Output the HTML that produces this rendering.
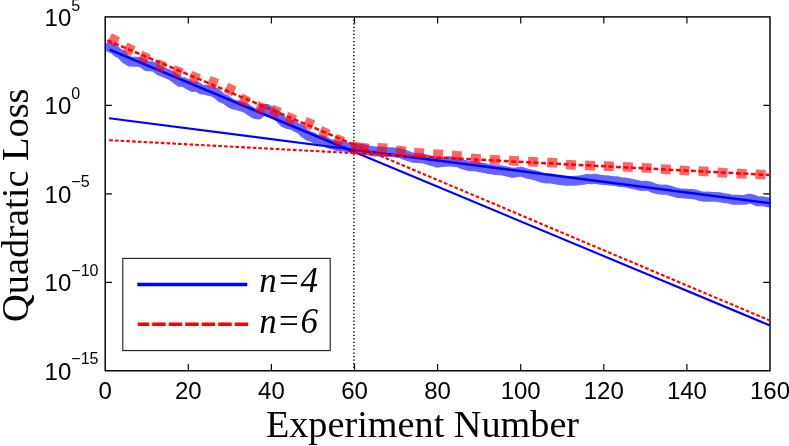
<!DOCTYPE html>
<html><head><meta charset="utf-8"><title>plot</title>
<style>html,body{margin:0;padding:0;background:#fff;overflow:hidden}body{width:789px;height:446px;position:relative;font-family:"Liberation Sans",sans-serif}</style></head>
<body>
<svg width="789" height="446" viewBox="0 0 789 446" style="position:absolute;left:0;top:0;will-change:transform">
<defs><clipPath id="cp"><rect x="104.50" y="16.20" width="666.20" height="355.25"/></clipPath></defs>
<rect x="105.2" y="16.9" width="664.8" height="353.85" fill="none" stroke="#000" stroke-width="1.45"/>
<path d="M188.3,370.75 v-6.7 M188.3,16.9 v6.7 M271.4,370.75 v-6.7 M271.4,16.9 v6.7 M354.5,370.75 v-6.7 M354.5,16.9 v6.7 M437.6,370.75 v-6.7 M437.6,16.9 v6.7 M520.7,370.75 v-6.7 M520.7,16.9 v6.7 M603.8,370.75 v-6.7 M603.8,16.9 v6.7 M686.9,370.75 v-6.7 M686.9,16.9 v6.7 M105.2,105.4 h6.7 M770.0,105.4 h-6.7 M105.2,193.8 h6.7 M770.0,193.8 h-6.7 M105.2,282.3 h6.7 M770.0,282.3 h-6.7" stroke="#000" stroke-width="1.15" fill="none"/>
<g clip-path="url(#cp)" fill="none">
<path d="M353.9,16.9 V370.75" stroke="#000" stroke-width="1.5" stroke-dasharray="1.25 2.29" stroke-dashoffset="0.8"/>
<path d="M109.4,47.1 L113.5,48.9 L117.7,52.5 L121.8,54.8 L126.0,59.3 L130.1,61.6 L134.3,61.7 L138.4,61.6 L142.6,63.1 L146.8,66.2 L150.9,66.1 L155.1,67.2 L159.2,70.4 L163.4,72.2 L167.5,73.8 L171.7,75.8 L175.8,78.8 L180.0,81.9 L184.1,82.2 L188.3,84.7 L192.5,87.0 L196.6,86.4 L200.8,89.3 L204.9,89.8 L209.1,91.0 L213.2,91.9 L217.4,94.2 L221.5,97.8 L225.7,99.3 L229.9,102.7 L234.0,104.7 L238.2,105.5 L242.3,106.7 L246.5,108.4 L250.6,111.1 L254.8,113.9 L258.9,114.5 L263.1,109.3 L267.2,109.0 L271.4,111.9 L275.6,114.4 L279.7,117.8 L283.9,122.4 L288.0,124.1 L292.2,124.9 L296.3,127.3 L300.5,129.1 L304.6,133.4 L308.8,136.0 L312.9,137.2 L317.1,140.2 L321.3,140.1 L325.4,141.7 L329.6,143.9 L333.7,144.6 L337.9,146.3 L342.0,146.1 L346.2,147.0 L350.3,147.9 L354.5,147.6 L358.7,148.5 L362.8,148.9 L367.0,150.1 L371.1,150.8 L375.3,151.5 L379.4,151.4 L383.6,151.7 L387.7,152.1 L391.9,152.1 L396.1,152.7 L400.2,153.1 L404.4,154.8 L408.5,156.2 L412.7,157.7 L416.8,158.1 L421.0,158.2 L425.1,159.0 L429.3,160.4 L433.4,161.3 L437.6,162.7 L441.8,162.1 L445.9,161.7 L450.1,161.3 L454.2,162.0 L458.4,162.4 L462.5,164.3 L466.7,165.5 L470.8,166.4 L475.0,166.2 L479.1,167.1 L483.3,167.8 L487.5,168.8 L491.6,169.4 L495.8,170.1 L499.9,170.2 L504.1,170.9 L508.2,171.8 L512.4,172.9 L516.5,172.4 L520.7,171.5 L524.9,172.9 L529.0,174.2 L533.2,174.9 L537.3,176.0 L541.5,177.6 L545.6,178.5 L549.8,178.3 L553.9,179.2 L558.1,179.8 L562.2,180.3 L566.4,180.8 L570.6,180.9 L574.7,180.8 L578.9,180.4 L583.0,179.9 L587.2,178.9 L591.3,179.2 L595.5,178.8 L599.6,179.6 L603.8,180.1 L608.0,180.3 L612.1,180.9 L616.3,181.1 L620.4,182.1 L624.6,182.4 L628.7,183.2 L632.9,184.1 L637.0,184.9 L641.2,186.1 L645.4,185.7 L649.5,186.3 L653.7,188.1 L657.8,189.2 L662.0,189.8 L666.1,189.5 L670.3,190.7 L674.4,192.0 L678.6,193.1 L682.7,193.4 L686.9,193.8 L691.1,194.0 L695.2,194.5 L699.4,195.8 L703.5,196.7 L707.7,196.5 L711.8,196.9 L716.0,196.9 L720.1,197.3 L724.3,198.1 L728.5,198.7 L732.6,199.7 L736.8,199.6 L740.9,199.9 L745.1,199.8 L749.2,198.6 L753.4,199.6 L757.5,201.4 L761.7,201.2 L765.8,201.9 L770.0,202.6" stroke="#0000ff" stroke-opacity="0.6" stroke-width="9.9" stroke-linejoin="round" stroke-linecap="round"/>
<path d="M109.5,49.7 L354.5,152.0" stroke="#0000ff" stroke-width="2.5"/>
<path d="M353.9,151.7 L770.0,325.5" stroke="#0000ff" stroke-width="2.1"/>
<path d="M109.1,118.3 L353.9,149.7" stroke="#0000ff" stroke-width="2.1"/>
<path d="M353.3,149.7 L770.0,203.2" stroke="#0000ff" stroke-width="2.5"/>
<path d="M109.5,37.9 L117.7,42.1 M125.2,47.3 L133.4,51.3 M140.2,55.5 L148.6,59.5 M156.6,64.1 L165.0,67.7 M173.3,70.3 L181.9,73.5 M190.3,76.0 L198.9,79.2 M208.7,81.0 L217.3,84.2 M226.1,87.6 L234.3,91.6 M240.3,98.2 L248.5,102.4 M256.6,106.3 L265.2,109.7 M271.2,109.6 L279.8,113.0 M286.5,117.0 L295.1,120.4 M304.7,121.8 L313.1,125.4 M320.1,130.7 L328.3,134.7 M334.7,138.5 L343.1,142.1" stroke="#ff0000" stroke-opacity="0.6" stroke-width="10.6"/>
<path d="M351.1,146.2 L368.9,148.4 M377.3,147.7 L387.3,148.3 M395.9,150.3 L405.9,151.3 M414.0,152.5 L424.0,153.3 M433.1,154.0 L443.1,154.6 M451.8,155.4 L461.8,156.2 M470.8,158.3 L480.8,159.1 M489.9,159.5 L499.9,160.1 M508.9,160.5 L518.9,161.1 M528.0,161.5 L538.0,162.1 M547.2,162.4 L557.2,163.0 M565.9,164.5 L575.9,165.1 M585.0,165.4 L595.0,165.8 M603.8,166.0 L613.8,166.4 M622.8,166.7 L632.8,167.3 M641.6,167.7 L651.6,168.3 M660.8,169.0 L670.8,169.6 M679.5,170.2 L689.5,170.8 M698.5,171.0 L708.5,171.6 M717.6,172.4 L727.6,173.0 M736.6,173.5 L746.6,173.9 M755.6,174.3 L765.6,174.7" stroke="#ff0000" stroke-opacity="0.6" stroke-width="9.6"/>
<path d="M107.3,40.3 L353.9,144.6" stroke="#ff0000" stroke-width="2.5" stroke-dasharray="4.9 2.6"/>
<path d="M353.9,144.6 L770.0,320.6" stroke="#ff0000" stroke-width="2.1" stroke-dasharray="3.7 2.05"/>
<path d="M109.1,140.2 L353.9,153.1" stroke="#ff0000" stroke-width="2.1" stroke-dasharray="3.7 2.05"/>
<path d="M353.9,153.1 L770.0,175.0" stroke="#ff0000" stroke-width="2.5" stroke-dasharray="4.9 2.6"/>
</g>
<rect x="122.8" y="258.4" width="207.4" height="92.2" fill="#fff" stroke="#1a1a1a" stroke-width="1.1"/>
<path d="M137.3,284.5 H247.3" stroke="#0000ff" stroke-width="3.5"/>
<path d="M137.8,324.25 H248.1" stroke="#ff0000" stroke-width="3.5" stroke-dasharray="13.5 3" stroke-dashoffset="2.1"/>
<g font-family="'Liberation Sans', sans-serif" font-size="24" fill="#000">
<text x="105.2" y="399.3" text-anchor="middle">0</text>
<text x="188.3" y="399.3" text-anchor="middle">20</text>
<text x="271.4" y="399.3" text-anchor="middle">40</text>
<text x="354.5" y="399.3" text-anchor="middle">60</text>
<text x="437.6" y="399.3" text-anchor="middle">80</text>
<text x="520.7" y="399.3" text-anchor="middle">100</text>
<text x="603.8" y="399.3" text-anchor="middle">120</text>
<text x="686.9" y="399.3" text-anchor="middle">140</text>
<text x="770.0" y="399.3" text-anchor="middle">160</text>
<text x="44.6" y="25.75">10<tspan dy="-15.2" font-size="16">5</tspan></text>
<text x="44.6" y="114.21">10<tspan dy="-15.2" font-size="16">0</tspan></text>
<text x="44.6" y="202.68">10<tspan dy="-15.2" font-size="16">−5</tspan></text>
<text x="44.6" y="291.14">10<tspan dy="-15.2" font-size="16">−10</tspan></text>
<text x="44.6" y="379.60">10<tspan dy="-15.2" font-size="16">−15</tspan></text>
</g>
<g font-family="'Liberation Serif', serif" fill="#000">
<text transform="translate(265.9,437.4) scale(1.02,1)" font-size="37.5">Experiment Number</text>
<text transform="translate(28.4,321.9) rotate(-90) scale(1.024,1)" font-size="37.5">Quadratic Loss</text>
<text transform="translate(259.3,292.3) scale(1.0,1)" font-size="35" font-style="italic">n=4</text>
<text transform="translate(259.3,332.6) scale(1.0,1)" font-size="35" font-style="italic">n=6</text>
</g>
</svg>
</body></html>
